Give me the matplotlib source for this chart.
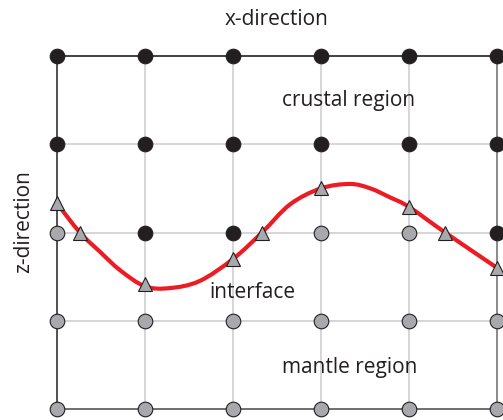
import matplotlib.pyplot as plt
from matplotlib.path import Path
from matplotlib.patches import PathPatch
import numpy as np

# grid of nodes (x columns, z rows; z grows downward)
grid_x = [0, 1, 2, 3, 4, 5]
grid_z = [0, 1, 2, 3, 4]

# nodes sitting inside the crust (black); everything else is mantle (gray)
crust_nodes = [(x, 0) for x in grid_x] + [(x, 1) for x in grid_x] + [(1, 2), (2, 2), (5, 2)]

# interface curve
curve_x = [0.0, 0.26, 0.49, 0.72, 1.0, 1.28, 1.62, 2.0, 2.33, 2.65, 3.0, 3.33, 3.56, 3.78, 4.0, 4.41, 5.0]
curve_z = [1.67, 2.0, 2.22, 2.43, 2.61, 2.63, 2.55, 2.30, 2.0, 1.68, 1.50, 1.45, 1.50, 1.60, 1.71, 2.0, 2.40]

# interface markers (grid columns + crossings of the z=2 row)
tri_x = [0.0, 0.26, 1.0, 2.0, 2.33, 3.0, 4.0, 4.41, 5.0]
tri_z = [1.67, 2.0, 2.58, 2.30, 2.0, 1.50, 1.71, 2.0, 2.40]

BLACK = '#231f20'
GRAY = '#a7a9ac'
LINE = '#cccccc'
RED = '#ed1c24'

fig = plt.figure(figsize=(5.03, 4.20), dpi=100)
ax = fig.add_axes([0, 0, 1, 1])
ax.set_xlim(-57 / 88, 446 / 88)
ax.set_ylim(364 / 88.25, -56 / 88.25)
ax.axis('off')

# inner grid lines
for x in grid_x[1:-1]:
    ax.plot([x, x], [0, 4], color=LINE, lw=1.1, zorder=1)
for z in grid_z[1:-1]:
    ax.plot([0, 5], [z, z], color=LINE, lw=1.1, zorder=1)

# outer frame
ax.plot([0, 5], [0, 0], color=BLACK, lw=1.2, zorder=2)
ax.plot([0, 0], [0, 4], color='#333333', lw=1.2, zorder=2)
ax.plot([0, 5], [4, 4], color='#555555', lw=1.2, zorder=2)
ax.plot([5, 5], [0, 4], color='#777777', lw=1.2, zorder=2)

# nodes
for x in grid_x:
    for z in grid_z:
        fc = BLACK if (x, z) in crust_nodes else GRAY
        ax.plot(x, z, 'o', ms=10.5, mfc=fc, mec=BLACK, mew=0.8, zorder=3)

# interface as a smooth bezier path through the read points (Catmull-Rom handles)
pts = np.column_stack([curve_x, curve_z])
verts = [pts[0]]
codes = [Path.MOVETO]
for i in range(len(pts) - 1):
    p0 = pts[max(i - 1, 0)]
    p1 = pts[i]
    p2 = pts[i + 1]
    p3 = pts[min(i + 2, len(pts) - 1)]
    verts += [p1 + (p2 - p0) / 6, p2 - (p3 - p1) / 6, p2]
    codes += [Path.CURVE4] * 3
ax.add_patch(PathPatch(Path(verts, codes), fill=False, edgecolor=RED, lw=3,
                       capstyle='round', zorder=4))
ax.plot(tri_x, tri_z, '^', ms=10.5, mfc=GRAY, mec=BLACK, mew=0.8, ls='none', zorder=5)

font = 'Open Sans'
fs = 15
ax.text(2.5, -0.41, 'x-direction', ha='center', va='center', fontsize=fs, family=font, color=BLACK)
ax.text(-0.38, 1.88, 'z-direction', ha='center', va='center', rotation=90, fontsize=fs,
        family=font, color=BLACK)
ax.text(3.31, 0.5, 'crustal region', ha='center', va='center', fontsize=fs, family=font, color=BLACK)
ax.text(2.22, 2.68, 'interface', ha='center', va='center', fontsize=fs, family=font, color=BLACK)
ax.text(3.33, 3.53, 'mantle region', ha='center', va='center', fontsize=fs, family=font, color=BLACK)

fig.savefig('out.png', dpi=100)
